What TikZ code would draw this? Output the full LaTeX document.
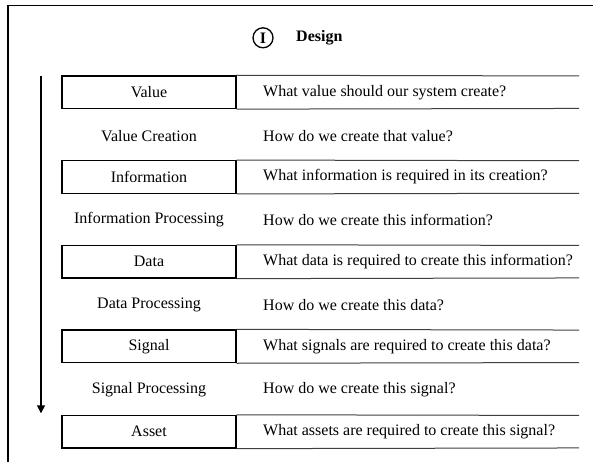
\documentclass[tikz,border=0pt]{standalone}
\usepackage{fontspec}
\setmainfont{Liberation Serif}
\usetikzlibrary{arrows.meta}
\begin{document}
\begin{tikzpicture}[x=1pt,y=-1pt,
  font=\fontsize{16}{19}\selectfont,
  leftbox/.style={draw=black,line width=1.4pt,minimum width=174pt,minimum height=32.5pt,inner sep=0pt,anchor=center},
  midlabel/.style={anchor=center,inner sep=0pt},
  question/.style={anchor=west,inner sep=0pt},
  rowline/.style={draw=black!75,line width=1pt},
  frame/.style={draw=black,line width=1.3pt},
  flow/.style={draw=black,line width=1.5pt,-{Triangle[length=8pt,width=8pt]}}]
\useasboundingbox (0,0) rectangle (593,462);
\fill[white] (0,0) rectangle (593,462);
% frame (top and left edges)
\coordinate (ftl) at (8,5.3);
\coordinate (ftr) at (593,5.3);
\coordinate (fbl) at (8,462);
\draw[frame] (ftr) -- (ftl) -- (fbl);
% title
\node[draw,circle,line width=1.3pt,minimum size=20pt,inner sep=0pt,font=\fontsize{16}{19}\selectfont\bfseries] (num) at (263,37.8) {I};
\node[anchor=west,inner sep=0pt,font=\fontsize{16}{19}\selectfont\bfseries] (title) at (296,37.8) {Design};
% rows
\foreach \n/\lab/\q/\y in {
  val/Value/{What value should our system create?}/92.2,
  inf/Information/{What information is required in its creation?}/177,
  dat/Data/{What data is required to create this information?}/261.7,
  sig/Signal/{What signals are required to create this data?}/346.3,
  ass/Asset/{What assets are required to create this signal?}/431.7}{
  \node[leftbox] (\n) at (149,\y) {\lab};
  \coordinate (\n-tr) at (579,\y-16.25);
  \coordinate (\n-br) at (579,\y+16.25);
  \draw[rowline] (\n.north east) -- (\n-tr);
  \draw[rowline] (\n.south east) -- (\n-br);
  \node[question] (\n-q) at (263,\y) {\q};
}
\foreach \n/\lab/\q/\y in {
  vc/Value Creation/{How do we create that value?}/135.7,
  ip/Information Processing/{How do we create this information?}/220,
  dp/Data Processing/{How do we create this data?}/305,
  sp/Signal Processing/{How do we create this signal?}/390}{
  \node[midlabel] (\n) at (149,\y) {\lab};
  \node[question] (\n-q) at (263,\y) {\q};
}
% flow arrow
\coordinate (ast) at (41,76);
\coordinate (aend) at (41,413.3);
\draw[flow] (ast) -- (aend);
\end{tikzpicture}
\end{document}
